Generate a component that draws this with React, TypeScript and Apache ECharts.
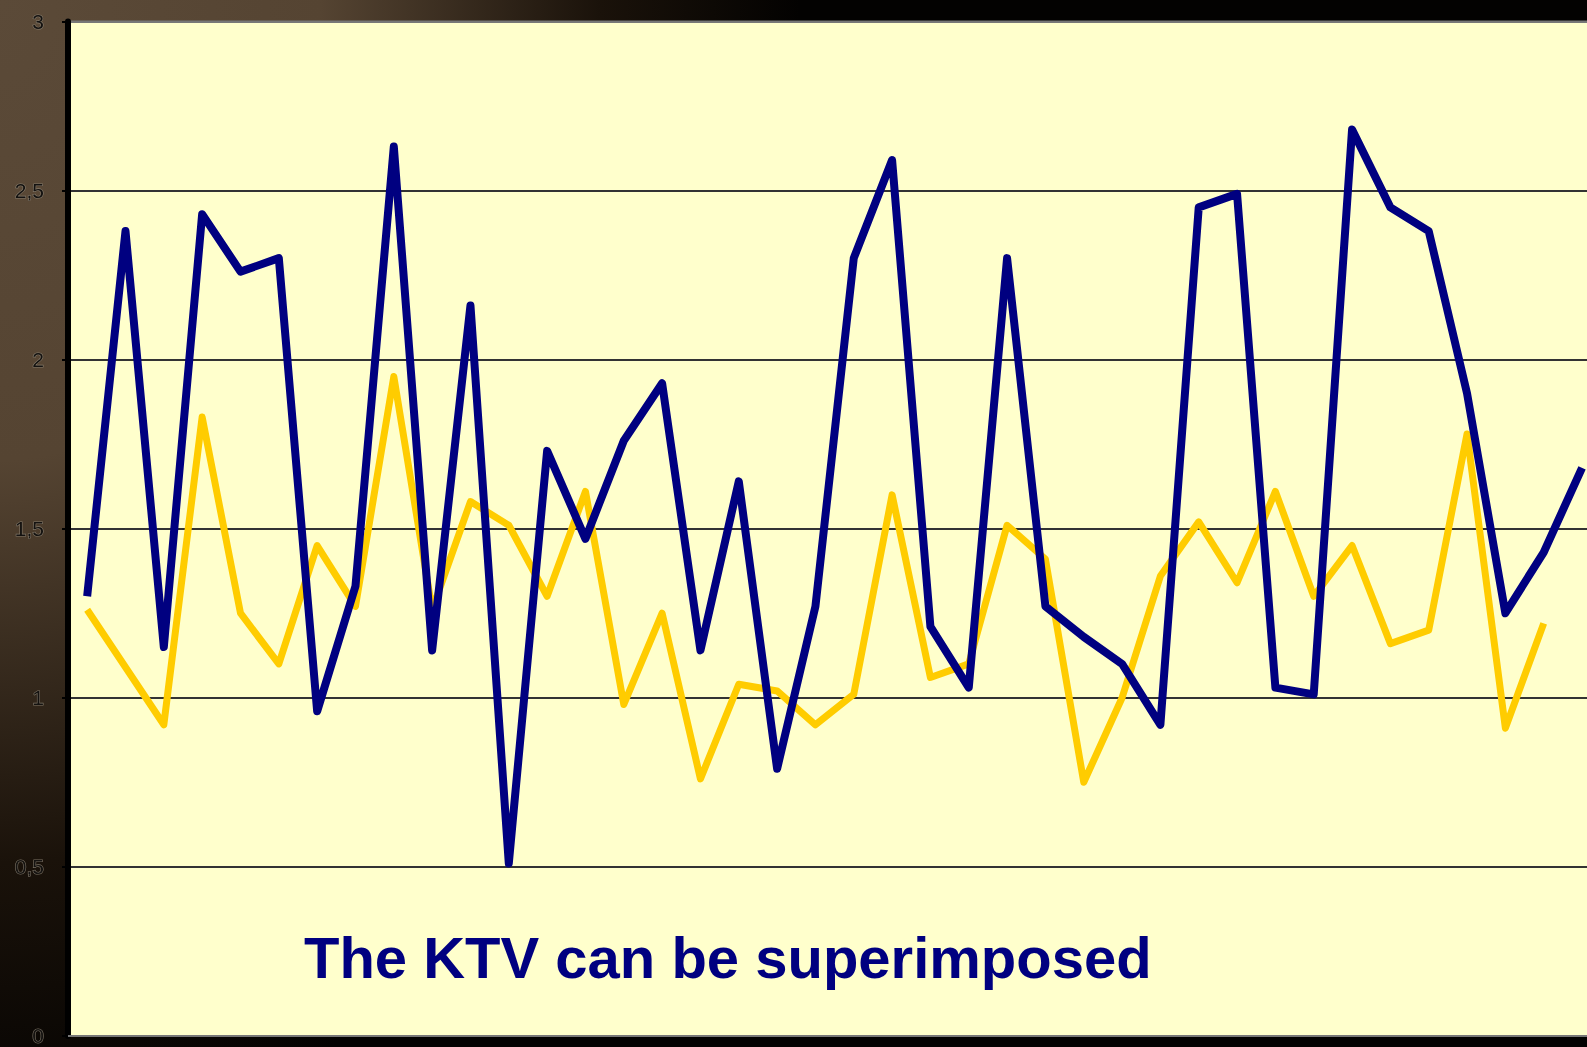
import React, { useEffect, useRef } from "react";
import * as echarts from "echarts";

const categories: string[] = Array.from({ length: 40 }, (_, i) => String(i + 1));

const blueValues: number[] = [
  1.30, 2.38, 1.15, 2.43, 2.26, 2.30, 0.96, 1.33, 2.63, 1.14,
  2.16, 0.51, 1.73, 1.47, 1.76, 1.93, 1.14, 1.64, 0.79, 1.27,
  2.30, 2.59, 1.21, 1.03, 2.30, 1.27, 1.18, 1.10, 0.92, 2.45,
  2.49, 1.03, 1.01, 2.68, 2.45, 2.38, 1.90, 1.25, 1.43, 1.68,
];

const yellowValues: (number | null)[] = [
  1.26, 1.09, 0.92, 1.83, 1.25, 1.10, 1.45, 1.27, 1.95, 1.26,
  1.58, 1.51, 1.30, 1.61, 0.98, 1.25, 0.76, 1.04, 1.02, 0.92,
  1.01, 1.60, 1.06, 1.10, 1.51, 1.41, 0.75, 1.00, 1.36, 1.52,
  1.34, 1.61, 1.30, 1.45, 1.16, 1.20, 1.78, 0.91, 1.22, null,
];

const yTicks = { min: 0, max: 3, interval: 0.5 };
const caption = "The KTV can be superimposed";

export default function App() {
  const ref = useRef<HTMLDivElement>(null);

  useEffect(() => {
    document.body.style.margin = "0";
    document.body.style.overflow = "hidden";
    if (!ref.current) return;
    const chart = echarts.init(ref.current, null, { renderer: "svg" });
    chart.setOption({
      animation: false,
      backgroundColor: "transparent",
      grid: {
        left: 68,
        top: 21.4,
        right: 18.8,
        bottom: 8,
        show: true,
        backgroundColor: "#FFFFCC",
        borderColor: "#777",
        borderWidth: 2,
      },
      xAxis: {
        type: "category",
        data: categories,
        boundaryGap: true,
        axisLine: { show: true, lineStyle: { color: "#777", width: 2 } },
        axisTick: { show: false },
        axisLabel: { show: false },
        splitLine: { show: false },
      },
      yAxis: {
        type: "value",
        min: yTicks.min,
        max: yTicks.max,
        interval: yTicks.interval,
        axisLine: { show: true, lineStyle: { color: "#000", width: 6 } },
        axisTick: { show: true, length: 6, lineStyle: { color: "#000", width: 2 } },
        axisLabel: {
          margin: 24,
          fontFamily: "Liberation Sans",
          fontSize: 21,
          color: "#141210",
          textBorderColor: "rgba(140,130,115,0.85)",
          textBorderWidth: 1.2,
          formatter: (v: number) => String(v).replace(".", ","),
        },
        splitLine: {
          show: true,
          lineStyle: { color: ["#333", "#333", "#333", "#333", "#333", "#333", "#777"], width: 2 },
        },
      },
      series: [
        {
          type: "line",
          data: yellowValues,
          symbol: "none",
          lineStyle: { color: "#FFCC00", width: 7, join: "round" },
          z: 2,
        },
        {
          type: "line",
          data: blueValues,
          symbol: "none",
          lineStyle: { color: "#000080", width: 8, join: "round" },
          z: 3,
        },
      ],
      graphic: [
        {
          type: "text",
          x: 304,
          y: 957,
          z: 10,
          style: {
            text: caption,
            font: 'bold 58px "Liberation Sans", Arial, sans-serif',
            fill: "#000080",
            align: "left",
            verticalAlign: "middle",
          },
        },
      ],
    });
    return () => chart.dispose();
  }, []);

  return (
    <div
      style={{
        position: "fixed",
        left: 0,
        top: 0,
        width: 1587,
        height: 1047,
        overflow: "hidden",
        background:
          "radial-gradient(ellipse 800px 1150px at 0px 0px, #5b4a38 0%, #554432 40%, #1a120a 75%, #030201 100%)",
      }}
    >
      <div ref={ref} style={{ width: 1620, height: 1047 }} />
    </div>
  );
}
